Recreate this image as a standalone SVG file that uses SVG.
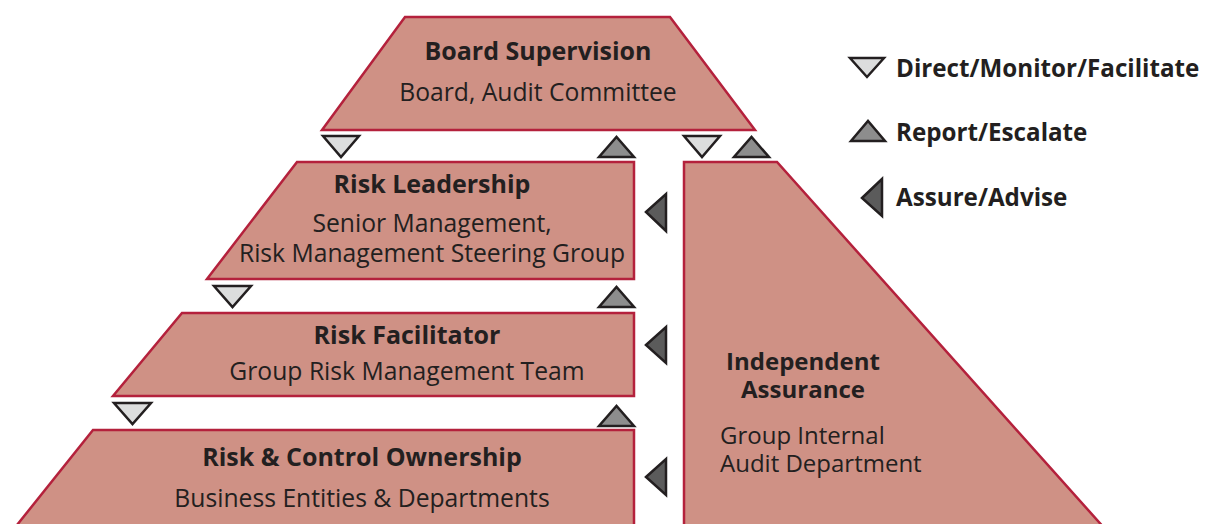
<svg xmlns="http://www.w3.org/2000/svg" width="1207" height="524" viewBox="0 0 1207 524">
<style>
.box{fill:#CF9185;stroke:#B4213C;stroke-width:2.5;stroke-linejoin:miter}
.t{font-family:"Open Sans","Noto Sans",sans-serif;font-weight:700;font-size:25px;fill:#231F20}
.s{font-family:"Open Sans","Noto Sans",sans-serif;font-weight:400;font-size:24.7px;fill:#231F20}
.lg{font-size:24.2px}
.ia{font-size:24px}
.dn{fill:#DCDDDD;stroke:#231F20;stroke-width:2.5;stroke-linejoin:miter}
.up{fill:#8D8D8D;stroke:#231F20;stroke-width:2.5;stroke-linejoin:miter}
.lf{fill:#5B5B5B;stroke:#231F20;stroke-width:2.5;stroke-linejoin:miter}
</style>
<rect width="1207" height="524" fill="#FFFFFF"/>
<g id="board">
<polygon class="box" points="405,17 670,17 755,130 322,130"/>
<text class="t" x="538" y="60" text-anchor="middle">Board Supervision</text>
<text class="s" x="538" y="101" text-anchor="middle">Board, Audit Committee</text>
</g>
<g id="leadership">
<polygon class="box" points="297,162 634,162 634,279 207,279"/>
<text class="t" x="432" y="193" text-anchor="middle">Risk Leadership</text>
<text class="s" x="432" y="232" text-anchor="middle">Senior Management,</text>
<text class="s" x="432" y="262" text-anchor="middle">Risk Management Steering Group</text>
</g>
<g id="facilitator">
<polygon class="box" points="182,313 634,313 634,396 113,396"/>
<text class="t" x="407" y="344" text-anchor="middle">Risk Facilitator</text>
<text class="s" x="407" y="380" text-anchor="middle">Group Risk Management Team</text>
</g>
<g id="ownership">
<polygon class="box" points="93,430 634,430 634,530 13,530"/>
<text class="t" x="362" y="466" text-anchor="middle">Risk &amp; Control Ownership</text>
<text class="s" x="362" y="507" text-anchor="middle">Business Entities &amp; Departments</text>
</g>
<g id="assurance">
<polygon class="box" points="684,162 777,162 1106,530 684,530"/>
<text class="t ia" x="803" y="370" text-anchor="middle">Independent</text>
<text class="t ia" x="803" y="398" text-anchor="middle">Assurance</text>
<text class="s ia" x="720" y="444">Group Internal</text>
<text class="s ia" x="720" y="472">Audit Department</text>
</g>
<g id="connectors">
<polygon class="dn" points="323,136 359,136 341,157"/>
<polygon class="up" points="599,157 634,157 616.5,137"/>
<polygon class="dn" points="684,136 720,136 702,157"/>
<polygon class="up" points="734,157 769,157 751.5,137"/>
<polygon class="dn" points="214,286 251,286 232.5,307"/>
<polygon class="up" points="599,307 634,307 616.5,287"/>
<polygon class="dn" points="114,403 151,403 132.5,424"/>
<polygon class="up" points="599,426 634,426 616.5,406"/>
<polygon class="lf" points="646,212 666,194 666,231"/>
<polygon class="lf" points="646,345 666,327 666,363"/>
<polygon class="lf" points="646,477 666,459 666,495"/>
</g>
<g id="legend">
<polygon class="dn" points="850,58 884,58 867,77"/>
<text class="t lg" x="896" y="77">Direct/Monitor/Facilitate</text>
<polygon class="up" points="851,141 885,141 868,121"/>
<text class="t lg" x="896" y="141">Report/Escalate</text>
<polygon class="lf" points="862,198 882,179 882,216"/>
<text class="t lg" x="896" y="206">Assure/Advise</text>
</g>
</svg>
